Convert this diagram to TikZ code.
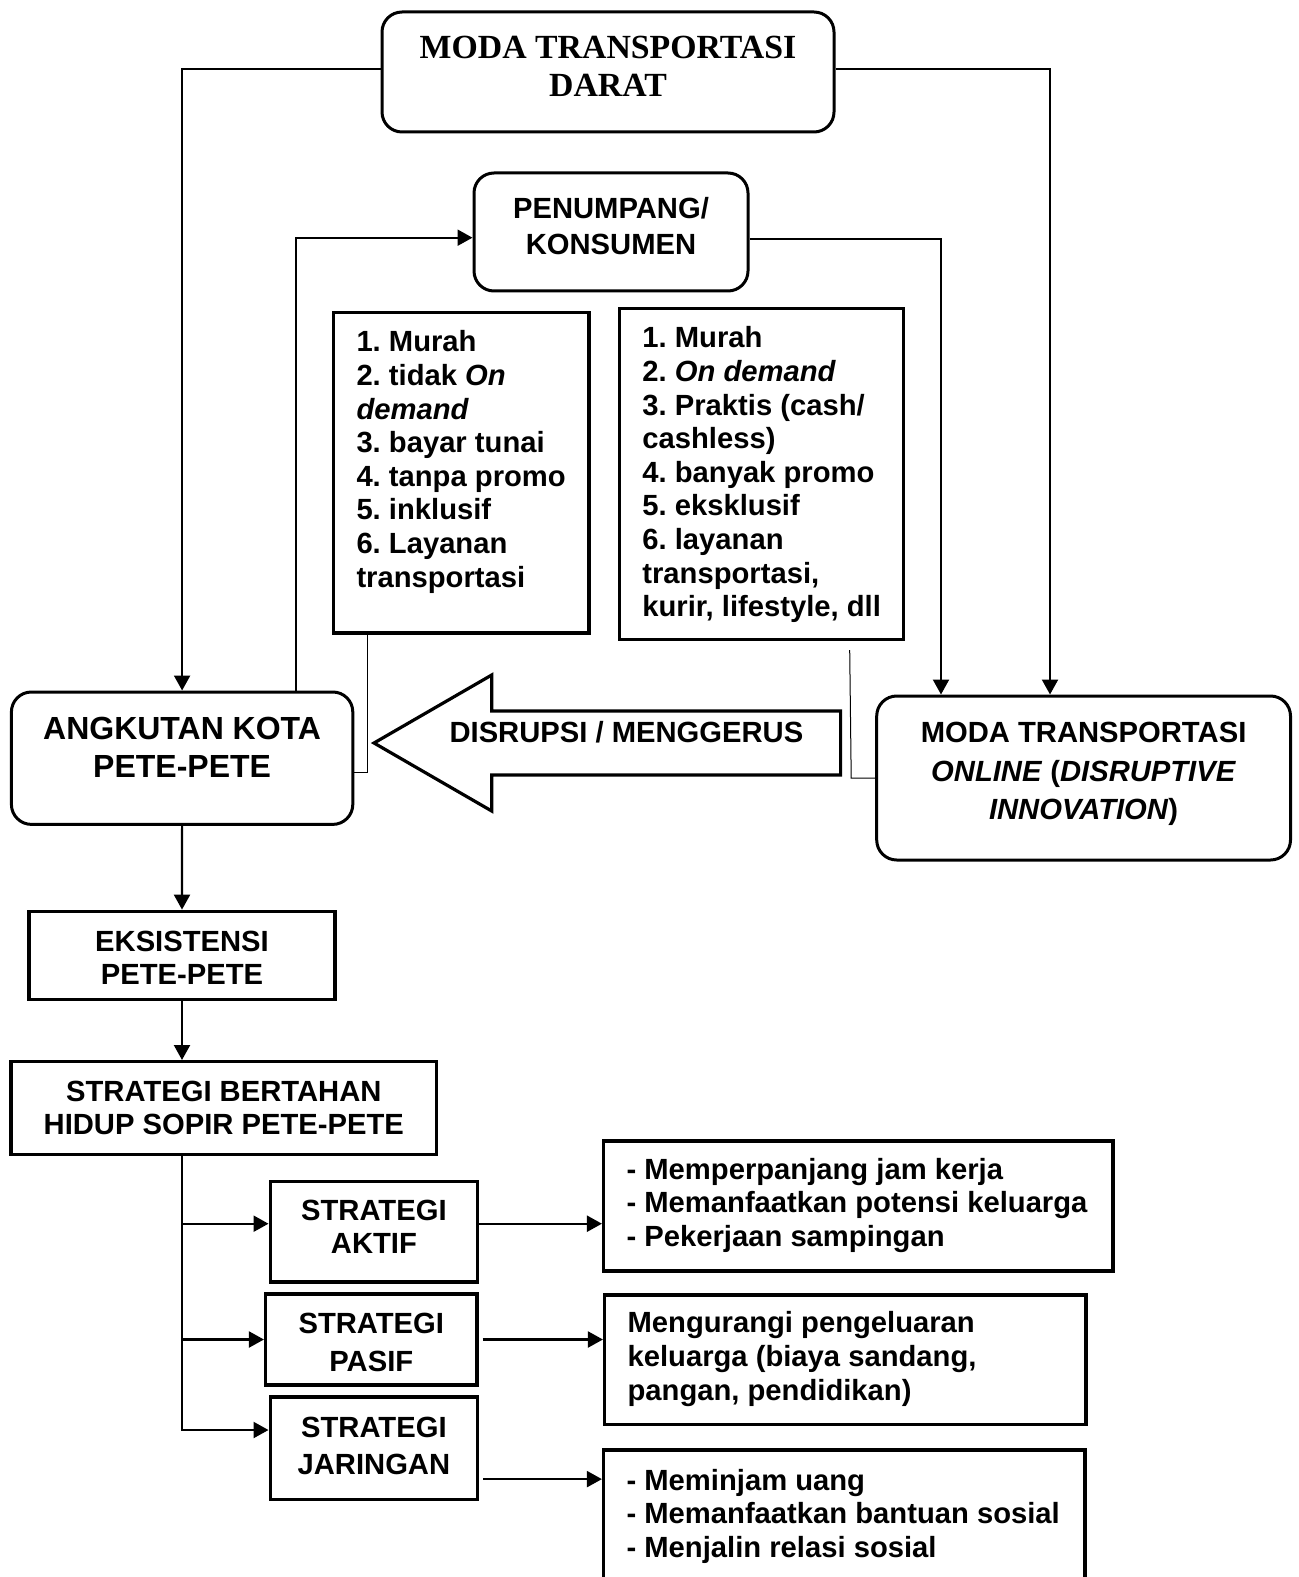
\documentclass[tikz,border=0pt]{standalone}
\usepackage{fontspec}
\setmainfont{Liberation Sans}
\newfontfamily\titlefont{Liberation Serif}
\usepackage{tikz}
\usetikzlibrary{arrows.meta}
\frenchspacing
\tikzset{%
  % boxes
  rbox/.style={draw, line width=1.5pt, rounded corners=10pt, inner sep=0pt},
  sbox/.style={draw, line width=1.7pt, inner sep=0pt},
  listbox/.style={draw, line width=1.7pt, inner xsep=11.5pt, inner ysep=7.8pt, font=\boxfont{14.6}{16.8}},
  % edge styles
  link/.style={-{Triangle[length=7.5pt,width=8pt]}, line width=1.1pt},
  thinline/.style={line width=0.5pt},
  bigarrow/.style={draw, line width=1.6pt, line join=miter},
}
\newcommand{\boxfont}[2]{\bfseries\fontsize{#1}{#2}\selectfont}
\newcommand{\flownode}[5][]{%
  % #1 = extra TikZ options
  % #2 = class (rbox | sbox)
  % #3 = node name
  % #4 = lift of the text
  % #5 = content
  \node[#2, #1] (#3) {\raisebox{#4}[\height][\depth]{\begin{tabular}{@{}c@{}}#5\end{tabular}}}%
}
\newcommand{\listnode}[6][]{%
  % #1 = extra TikZ options
  % #2 = node name
  % #3 = text width
  % #4 = text height
  % #5 = t (top) or c (centre)
  % #6 = lines
  \node[listbox, #1] (#2) {\parbox[c][#4][#5]{#3}{\begin{tabular}[t]{@{}l@{}}#6\end{tabular}}}%
}

\begin{document}
\begin{tikzpicture}[x=0.5pt, y=-0.5pt]
  \useasboundingbox (0,0) rectangle (1299,1577);
  \clip (0,0) rectangle (1299,1577);

  % Top boxes
  \flownode[minimum width=226pt, minimum height=60pt, font=\titlefont\boxfont{16.9}{19.1}, at={(608,72)}]{rbox}{darat}{1pt}{MODA TRANSPORTASI\\DARAT};
  \flownode[minimum width=137pt, minimum height=59pt, font=\boxfont{14.6}{18.1}, at={(611,232)}]{rbox}{penumpang}{1.3pt}{PENUMPANG/\\KONSUMEN};

  % Characteristics
  \listnode[at={(461.3,472.9)}]{pete_ciri}{104.8pt}{144.5pt}{t}{1. Murah\\2. tidak \textit{On}\\\textit{demand}\\3. bayar tunai\\4. tanpa promo\\5. inklusif\\6. Layanan\\transportasi};
  \listnode[at={(761.5,474.2)}]{online_ciri}{119.1pt}{149.9pt}{t}{1. Murah\\2. \textit{On demand}\\3. Praktis (cash/\\cashless)\\4. banyak promo\\5. eksklusif\\6. layanan\\transportasi,\\kurir, lifestyle, dll};

  % Transport modes
  \flownode[minimum width=170.7pt, minimum height=66.2pt, font=\boxfont{16}{19}, at={(182.1,758.2)}]{rbox}{angkot}{3.5pt}{ANGKUTAN KOTA\\PETE-PETE};
  \flownode[minimum width=206.9pt, minimum height=82pt, font=\boxfont{14.6}{19.2}, at={(1083.6,778)}]{rbox}{online}{2.3pt}{MODA TRANSPORTASI\\\textit{ONLINE} (\textit{DISRUPTIVE}\\\textit{INNOVATION})};

  % Disruption arrow
  \draw[bigarrow] (840.6,711) -- (491.7,711) -- (491.7,675) -- (374,743)
    -- (491.7,811) -- (491.7,775) -- (840.6,775) -- cycle;
  \node[font=\boxfont{14.6}{16.8}] (disrupsi) at (626.4,732) {DISRUPSI / MENGGERUS};

  % Strategies
  \flownode[minimum width=152.9pt, minimum height=44pt, font=\boxfont{14.6}{16.7}, at={(182,955.3)}]{sbox}{eksistensi}{-3.1pt}{EKSISTENSI\\PETE-PETE};
  \flownode[minimum width=212.8pt, minimum height=46.3pt, font=\boxfont{14.6}{16.5}, at={(223.8,1108)}]{sbox}{bertahan}{-1.9pt}{STRATEGI BERTAHAN\\HIDUP SOPIR PETE-PETE};
  \flownode[minimum width=103.7pt, minimum height=50.2pt, font=\boxfont{14.6}{16.6}, at={(373.9,1231.9)}]{sbox}{aktif}{0.6pt}{STRATEGI\\AKTIF};
  \flownode[minimum width=105.7pt, minimum height=45.5pt, font=\boxfont{14.6}{18.8}, at={(371.3,1339.5)}]{sbox}{pasif}{-2.6pt}{STRATEGI\\PASIF};
  \flownode[minimum width=103.7pt, minimum height=51.3pt, font=\boxfont{14.6}{18.7}, at={(373.9,1448.3)}]{sbox}{jaringan}{0pt}{STRATEGI\\JARINGAN};

  \listnode[at={(858.3,1206)}]{aktif_isi}{231.7pt}{49.4pt}{c}{- Memperpanjang jam kerja\\- Memanfaatkan potensi keluarga\\- Pekerjaan sampingan};
  \listnode[at={(845.3,1359.8)}]{pasif_isi}{217.7pt}{49.15pt}{c}{Mengurangi pengeluaran\\keluarga (biaya sandang,\\pangan, pendidikan)};
  \listnode[at={(844.3,1517)}]{jaringan_isi}{217.7pt}{51.4pt}{c}{- Meminjam uang\\- Memanfaatkan bantuan sosial\\- Menjalin relasi sosial};

  % Links
  \draw[link] ([yshift=1.5pt]darat.west) -| (angkot.north);
  \draw[link] ([yshift=1.5pt]darat.east) -| ([xshift=-16.8pt]online.north);
  \draw[link] ([xshift=56.8pt]angkot.north) |- ([yshift=-2.85pt]penumpang.west);
  \draw[link] ([yshift=-3.5pt]penumpang.east) -| ([xshift=-71.3pt]online.north);
  \draw[thinline] ([xshift=-46.8pt]pete_ciri.south) |- ([yshift=-7pt]angkot.east);
  \draw[thinline] ([xshift=44.1pt,yshift=-4.4pt]online_ciri.south) -- ([xshift=-12pt]online.west) -- (online.west);

  \draw[link] (angkot.south) -- (eksistensi.north);
  \draw[link] (eksistensi.south) -- (eksistensi.south |- bertahan.north);

  % Branches
  \coordinate (cabang) at (eksistensi.south |- bertahan.south);
  \draw[link] (cabang) |- ([yshift=4.1pt]aktif.west);
  \draw[link] (cabang) |- (pasif.west);
  \draw[link] (cabang) |- ([yshift=9.15pt]jaringan.west);

  \coordinate (aktif_out) at ([yshift=4.1pt]aktif.east);
  \coordinate (pasif_out) at ([xshift=2pt]pasif.east);
  \coordinate (jaringan_out) at ([xshift=2pt,yshift=-15.4pt]jaringan.east);
  \draw[link] (aktif_out) -- (aktif_out -| aktif_isi.west);
  \draw[link] (pasif_out) -- (pasif_out -| pasif_isi.west);
  \draw[link] (jaringan_out) -- (jaringan_out -| jaringan_isi.west);

\end{tikzpicture}
\end{document}
